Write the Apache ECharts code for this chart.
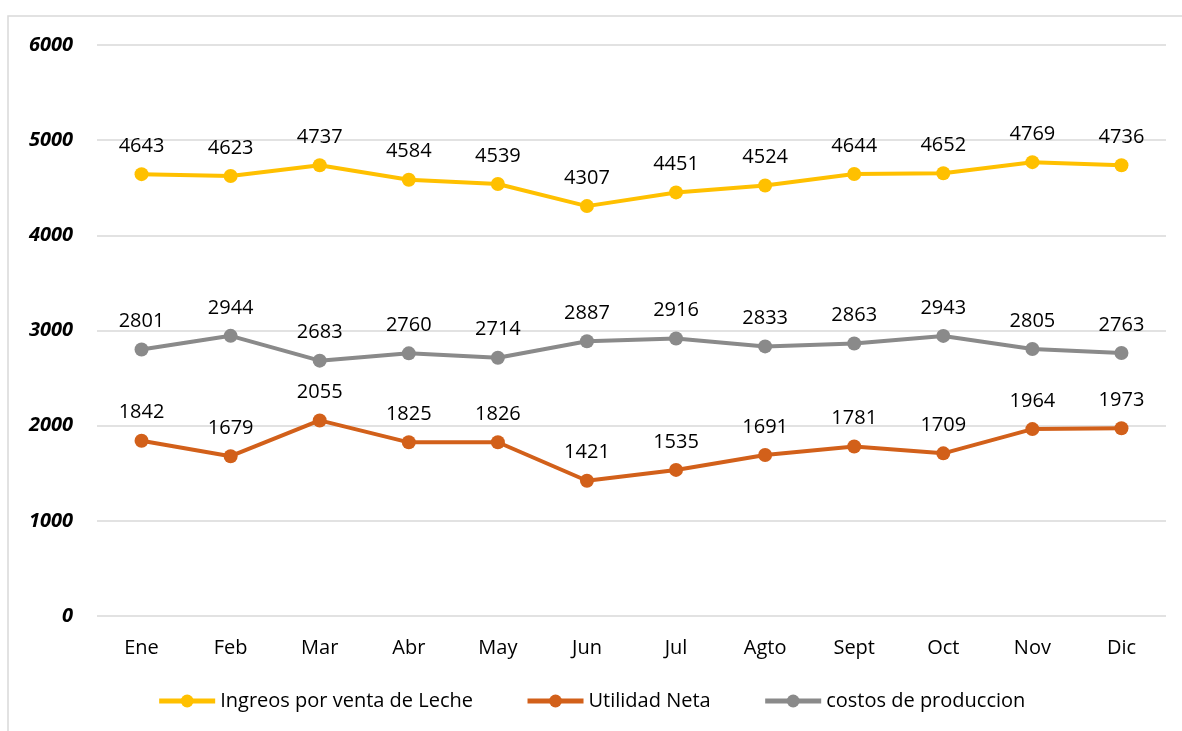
<!DOCTYPE html>
<html>
<head>
<meta charset="utf-8">
<script src="https://cdn.jsdelivr.net/npm/echarts@6/dist/echarts.min.js"></script>
<style>
  html, body { margin: 0; padding: 0; background: #fff; }
  #main { width: 1182px; height: 731px; }
</style>
</head>
<body>
<div id="main"></div>
<script>
const meses = ['Ene', 'Feb', 'Mar', 'Abr', 'May', 'Jun', 'Jul', 'Agto', 'Sept', 'Oct', 'Nov', 'Dic'];
const ingresos = [4643, 4623, 4737, 4584, 4539, 4307, 4451, 4524, 4644, 4652, 4769, 4736];
const utilidad = [1842, 1679, 2055, 1825, 1826, 1421, 1535, 1691, 1781, 1709, 1964, 1973];
const costos = [2801, 2944, 2683, 2760, 2714, 2887, 2916, 2833, 2863, 2943, 2805, 2763];

const fuente = 'Open Sans';
const chart = echarts.init(document.getElementById('main'));

function serie(name, data, color) {
    return {
        name: name,
        type: 'line',
        data: data,
        symbol: 'circle',
        symbolSize: 14,
        lineStyle: { color: color, width: 4 },
        itemStyle: { color: color },
        label: {
            show: true,
            position: 'top',
            distance: 11,
            color: '#000',
            fontFamily: fuente,
            fontSize: 20
        },
        animation: false
    };
}

const option = {
    backgroundColor: '#fff',
    graphic: [{
        type: 'rect',
        shape: { x: 8, y: 16, width: 1190, height: 740 },
        style: { fill: 'none', stroke: '#d9d9d9', lineWidth: 1.5 },
        silent: true
    }],
    grid: { left: 97, right: 16, top: 45, bottom: 115 },
    legend: {
        top: 686,
        left: 'center',
        itemWidth: 56,
        itemHeight: 16,
        itemGap: 52,
        lineStyle: { width: 5 },
        textStyle: { fontFamily: fuente, fontSize: 20, color: '#000' },
        data: ['Ingreos por venta de Leche', 'Utilidad Neta', 'costos de produccion']
    },
    xAxis: {
        type: 'category',
        data: meses,
        boundaryGap: true,
        axisLine: { show: false },
        axisTick: { show: false },
        axisLabel: { color: '#000', fontFamily: fuente, fontSize: 20, margin: 22 }
    },
    yAxis: {
        type: 'value',
        min: 0,
        max: 6000,
        interval: 1000,
        axisLine: { show: false },
        axisTick: { show: false },
        splitLine: { lineStyle: { color: '#d9d9d9', width: 1.5 } },
        axisLabel: {
            color: '#000',
            fontFamily: fuente,
            fontSize: 20,
            fontWeight: 'bold',
            fontStyle: 'italic',
            margin: 24,
            formatter: function (v) { return String(v); }
        }
    },
    series: [
        serie('Ingreos por venta de Leche', ingresos, '#FFC000'),
        serie('Utilidad Neta', utilidad, '#D2601A'),
        serie('costos de produccion', costos, '#8A8A8A')
    ]
};

chart.setOption(option);
</script>
</body>
</html>
